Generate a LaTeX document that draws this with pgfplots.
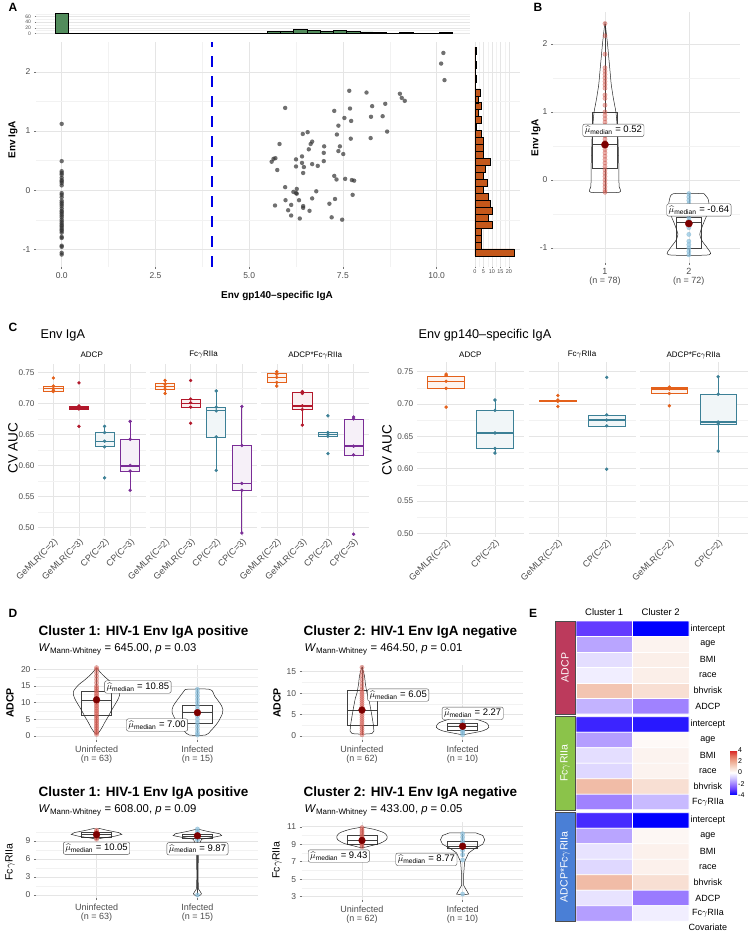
\documentclass[border=0pt]{standalone}
\usepackage{amsmath}
\usepackage{fontspec}
\setmainfont{Liberation Sans}
\usepackage{pgfplots}
\pgfplotsset{compat=1.18}
\usepgfplotslibrary{statistics}
\newcommand{\fs}[1]{\fontsize{#1}{#1}\selectfont}
\newcommand{\Wmw}{\textit{W}$_{\text{Mann-Whitney}}$}
\definecolor{cO}{RGB}{228,97,27}
\definecolor{cR}{RGB}{178,24,43}
\definecolor{cT}{RGB}{60,128,150}
\definecolor{cP}{RGB}{122,45,150}
\definecolor{histG}{RGB}{82,140,92}
\definecolor{histO}{RGB}{196,88,27}
\definecolor{dotR}{RGB}{222,100,90}
\definecolor{dotB}{RGB}{140,195,225}
\definecolor{medR}{RGB}{125,0,0}
\definecolor{stA}{RGB}{188,58,92}
\definecolor{stF}{RGB}{139,195,74}
\definecolor{stB}{RGB}{74,127,214}
\tikzset{lab/.style={draw=black!70, rounded corners=2pt, fill=white, inner sep=2pt, font=\fs{9.5}},
  rl/.style={font=\fs{9}}}
\pgfplotsset{
  colormap={heat}{rgb255=(0,0,255); rgb255=(100,60,255); rgb255=(160,130,255); rgb255=(210,200,255); rgb255=(255,255,255); rgb255=(246,215,200); rgb255=(238,170,145); rgb255=(228,110,90); rgb255=(215,25,28)},
  gg/.style={scale only axis, anchor=south west, axis line style={draw=none},
    tick pos=left, tick align=outside, major tick length=2pt, minor tick length=0pt,
    tick style={draw=black!55, line width=0.4pt},
    major grid style={draw=black!10, line width=0.5pt},
    minor grid style={draw=black!5, line width=0.35pt},
    xmajorgrids, ymajorgrids, yminorgrids,
    tick label style={font=\fs{8.5}, text=black!70},
    clip mode=individual},
  cfac/.style={gg, width=107.5pt, xmin=0.4, xmax=4.6, xtick={1,2,3,4},
    ytick={0.5,0.55,0.6,0.65,0.7,0.75}, yticklabels={0.50,0.55,0.60,0.65,0.70,0.75},
    yticklabel style={font=\fs{8.2}},
    minor ytick={0.525,0.575,0.625,0.675,0.725}, major tick length=0pt,
    xticklabel style={rotate=45, anchor=north east, inner sep=1pt, font=\fs{9}}},
  cfac2/.style={cfac, xmin=0.4, xmax=2.6, xtick={1,2}, xticklabels={GeMLR(C=2),CP(C=2)}},
  dax/.style={gg, width=222pt, height=75pt, xmin=0.4, xmax=2.6, xtick={1,2},
    xticklabel style={align=center, font=\fs{9}}},
  bx/.style={draw=#1, fill=#1!7, line width=0.7pt},
  pts/.style={only marks, mark=*, mark size=1.5pt, color=#1},
  vio/.style={draw=black!85, line width=0.5pt},
  gbox/.style={draw=black!75, line width=0.5pt},
  rdot/.style={only marks, mark=*, mark size=2.2pt, mark options={draw=dotR!85!black, draw opacity=0.5, line width=0.3pt, fill=dotR, fill opacity=0.5}},
  bdot/.style={only marks, mark=*, mark size=2.2pt, mark options={draw=dotB!85!black, draw opacity=0.5, line width=0.3pt, fill=dotB, fill opacity=0.7}},
  mdot/.style={only marks, mark=*, mark size=3.4pt, color=medR}
}
\begin{document}
\begin{tikzpicture}[x=1pt,y=1pt]
\useasboundingbox (0,0) rectangle (750,932);

% ---------------- A ----------------
\node[font=\bfseries\fs{12}] at (13,925) {A};
\begin{axis}[gg, at={(36pt,665pt)}, width=434pt, height=225.3pt,
  xmin=-0.685, xmax=10.89, ymin=-1.30, ymax=2.51,
  xtick={0,2.5,5,7.5,10}, xticklabels={0.0,2.5,5.0,7.5,10.0},
  minor xtick={1.25,3.75,6.25,8.75}, xminorgrids,
  ytick={-1,0,1,2}, yticklabels={-1,0,1,2}, minor ytick={-0.5,0.5,1.5}]
\addplot[color=blue!90!black, line width=2.2pt, dash pattern=on 11pt off 9pt] coordinates {(4,-1.30) (4,2.51)};
\addplot[only marks, mark=*, mark size=2.2pt, mark options={draw opacity=0, line width=0pt, fill=black!80, fill opacity=0.7}] coordinates {
(0,1.12) (0,0.49) (0,0.32) (0,0.29) (0,0.26) (0,0.21) (0,0.17) (0,0.15) (0,0.12) (0,0.08)
(0,-0.05) (0,-0.08) (0,-0.12) (0,-0.18) (0,-0.21) (0,-0.24) (0,-0.27) (0,-0.31) (0,-0.35) (0,-0.37)
(0,-0.40) (0,-0.43) (0,-0.46) (0,-0.50) (0,-0.53) (0,-0.56) (0,-0.59) (0,-0.61) (0,-0.64) (0,-0.67)
(0,-0.69) (0,-0.72) (0,-0.79) (0,-0.81) (0,-0.94) (0,-0.96) (0,-1.06) (0,-1.09)
(10.18,2.32) (10.12,2.14) (10.21,1.86) (7.67,1.68) (8.13,1.65) (9.02,1.63) (9.07,1.56) (9.15,1.51)
(8.63,1.46) (8.28,1.42) (5.96,1.39) (7.69,1.38) (7.27,1.34) (7.54,1.22) (8.25,1.24) (8.56,1.25)
(7.72,1.17) (7.38,1.09) (6.56,0.98) (8.68,0.99) (6.43,0.95) (7.34,0.94) (7.71,0.87) (8.24,0.88)
(5.81,0.78) (6.68,0.82) (6.64,0.78) (7.00,0.74) (7.42,0.74) (6.59,0.69) (7.38,0.66) (6.99,0.63)
(7.51,0.61) (6.41,0.57) (5.70,0.54) (5.65,0.53) (5.60,0.48) (6.25,0.52) (6.99,0.49) (6.41,0.46)
(6.68,0.44) (6.46,0.39) (6.25,0.40) (6.83,0.41) (5.75,0.34) (6.44,0.29) (7.27,0.24) (7.33,0.18)
(7.56,0.19) (7.74,0.17) (7.80,0.16) (5.96,0.05) (6.27,0.02) (6.18,-0.03) (6.25,-0.05) (6.27,-0.06)
(6.79,-0.02) (7.76,-0.08) (5.97,-0.17) (6.33,-0.17) (6.68,-0.14) (7.29,-0.15) (5.69,-0.26) (6.12,-0.25)
(6.44,-0.27) (7.14,-0.23) (6.44,-0.30) (6.04,-0.34) (6.61,-0.35) (6.12,-0.43) (6.35,-0.48) (7.20,-0.46)
(7.48,-0.50)};
\end{axis}
\node[font=\bfseries\fs{10}, rotate=90] at (13,792) {Env IgA};
\node[font=\bfseries\fs{10}] at (277,636) {Env gp140--specific IgA};

% top histogram
\begin{axis}[gg, at={(36pt,898pt)}, width=434pt, height=22pt,
  xmin=-0.685, xmax=10.89, ymin=-2.4, ymax=77, xmajorgrids=false,
  xtick=\empty, ytick={0,20,40,60}, yticklabels={0,20,40,60}, minor ytick={10,30,50,70},
  yticklabel style={font=\fs{5}}, major tick length=1.5pt]
\addplot[ybar, bar width=0.3534, draw=black, line width=0.6pt, fill=histG] coordinates {
(0,72) (0.3534,0) (0.7068,0) (1.0602,0) (1.4136,0) (1.767,0) (2.1204,0) (2.4738,0) (2.8272,0) (3.1806,0)
(3.534,0) (3.8874,0) (4.2408,0) (4.5942,0) (4.9476,0) (5.301,0) (5.6544,6) (6.0078,6) (6.3612,14) (6.7146,10)
(7.068,7) (7.4214,12) (7.7748,7) (8.1282,5) (8.4816,3) (8.835,1) (9.1884,3) (9.5418,1) (9.8952,0) (10.2486,3)};
\end{axis}

% right histogram
\begin{axis}[gg, at={(470pt,665pt)}, width=50pt, height=225.3pt,
  xmin=-2.9, xmax=26.5, ymin=-1.30, ymax=2.51,
  xtick={0,5,10,15,20}, xticklabels={0,5,10,15,20}, minor xtick={2.5,7.5,12.5,17.5}, xminorgrids,
  xticklabel style={font=\fs{5.5}, inner sep=1pt}, major tick length=1.5pt,
  ytick={-1,0,1,2}, yticklabels={}, minor ytick={-0.5,0.5,1.5}, ytick style={draw=none}]
\addplot[xbar, bar width=0.1177, draw=black, line width=0.6pt, fill=histO] coordinates {
(23,-1.054) (4,-0.936) (4,-0.819) (4,-0.701) (10,-0.583) (8,-0.466) (10,-0.348) (9,-0.230) (8,-0.113) (5,0.005)
(7,0.123) (5,0.241) (6,0.358) (9,0.476) (5,0.594) (5,0.711) (5,0.829) (4,0.947) (1,1.064) (4,1.182)
(2,1.300) (4,1.418) (2,1.535) (3,1.653) (0,1.771) (1,1.888) (0,2.006) (1,2.124) (0,2.241) (1,2.359)};
\end{axis}

% ---------------- B ----------------
\node[font=\bfseries\fs{12}] at (538,925) {B};
\begin{axis}[gg, at={(553pt,669pt)}, width=187pt, height=251pt,
  xmin=0.38, xmax=2.61, ymin=-1.22, ymax=2.47,
  xtick={1,2}, xticklabels={{1\\(n = 78)},{2\\(n = 72)}}, xticklabel style={align=center, font=\fs{9}},
  ytick={-1,0,1,2}, yticklabels={-1,0,1,2}, minor ytick={-0.5,0.5,1.5}]
\addplot[gbox, boxplot prepared={draw direction=y, draw position=1, lower whisker=-0.18, lower quartile=0.17, median=0.52, upper quartile=1.0, upper whisker=2.3, box extend=0.3, whisker extend=0}] coordinates {};
\addplot[gbox, boxplot prepared={draw direction=y, draw position=2, lower whisker=-1.1, lower quartile=-1.0, median=-0.62, upper quartile=-0.55, upper whisker=-0.2, box extend=0.3, whisker extend=0}] coordinates {};
\addplot[vio, smooth, tension=0.4] coordinates {(1,2.32) (1.012,2.2) (1.03,2.0) (1.045,1.8) (1.06,1.6) (1.075,1.4) (1.1,1.2) (1.13,1.0) (1.145,0.8) (1.155,0.6) (1.16,0.4) (1.165,0.2) (1.165,0) (1.17,-0.1) (1.17,-0.18) (0.83,-0.18) (0.83,-0.1) (0.835,0) (0.835,0.2) (0.84,0.4) (0.845,0.6) (0.855,0.8) (0.87,1.0) (0.9,1.2) (0.925,1.4) (0.94,1.6) (0.955,1.8) (0.97,2.0) (0.988,2.2) (1,2.32)};
\addplot[vio, smooth, tension=0.4] coordinates {(2.18,-0.2) (2.23,-0.28) (2.24,-0.38) (2.22,-0.5) (2.17,-0.65) (2.13,-0.8) (2.16,-0.9) (2.22,-1.0) (2.24,-1.1) (1.76,-1.1) (1.78,-1.0) (1.84,-0.9) (1.87,-0.8) (1.83,-0.65) (1.78,-0.5) (1.76,-0.38) (1.77,-0.28) (1.82,-0.2) (2.18,-0.2)};
\addplot[rdot] coordinates {(1,2.3) (1,2.12) (1,1.85) (1,1.65) (1,1.6) (1,1.55) (1,1.5) (1,1.45) (1,1.4) (1,1.35) (1,1.25) (1,1.2) (1,1.1) (1,1.0) (1,0.95) (1,0.9) (1,0.85) (1,0.8) (1,0.75) (1,0.7) (1,0.65) (1,0.6) (1,0.55) (1,0.5) (1,0.45) (1,0.4) (1,0.35) (1,0.3) (1,0.25) (1,0.2) (1,0.15) (1,0.1) (1,0.05) (1,0) (1,-0.05) (1,-0.1) (1,-0.15) (1,-0.18)};
\addplot[bdot] coordinates {(2,-0.2) (2,-0.25) (2,-0.3) (2,-0.35) (2,-0.45) (2,-0.55) (2,-0.6) (2,-0.65) (2,-0.7) (2,-0.8) (2,-0.9) (2,-0.95) (2,-1.0) (2,-1.05) (2,-1.1)};
\addplot[mdot, mark size=3.6pt] coordinates {(1,0.52) (2,-0.64)};
\node[lab] at (axis cs:1.1,0.73) {$\widehat{\mu}_{\text{median}}$ = 0.52};
\node[lab] at (axis cs:2.12,-0.44) {$\widehat{\mu}_{\text{median}}$ = -0.64};
\end{axis}
\node[font=\bfseries\fs{10}, rotate=90] at (536,794) {Env IgA};

% ---------------- C ----------------
\node[font=\bfseries\fs{12}] at (13,605) {C};
\node[font=\fs{12.7}, anchor=west] at (37,597) {Env IgA};
\node[font=\fs{12.7}, anchor=west] at (415,597) {Env gp140--specific IgA};
\node[font=\fs{13.5}, rotate=90] at (13,484) {CV AUC};
\node[font=\fs{13.5}, rotate=90] at (387,482) {CV AUC};
\node[font=\fs{8}] at (91.75,577) {ADCP};
\node[font=\fs{8}] at (203.5,577) {Fc$\gamma$RIIa};
\node[font=\fs{8}] at (315.2,577) {ADCP*Fc$\gamma$RIIa};
\node[font=\fs{8}] at (470.3,577) {ADCP};
\node[font=\fs{8}] at (582,577) {Fc$\gamma$RIIa};
\node[font=\fs{8}] at (693.5,577) {ADCP*Fc$\gamma$RIIa};

\begin{axis}[cfac, at={(38pt,395.9pt)}, height=172.4pt, ymin=0.486, ymax=0.764,
  xticklabels={GeMLR(C=2),GeMLR(C=3),CP(C=2),CP(C=3)}]
\addplot[bx=cO, boxplot prepared={draw direction=y, draw position=1, lower whisker=0.719, lower quartile=0.720, median=0.724, upper quartile=0.727, upper whisker=0.728, box extend=0.75, whisker extend=0, every median/.style={line width=1.4pt}}] coordinates {};
\addplot[bx=cR, boxplot prepared={draw direction=y, draw position=2, lower whisker=0.690, lower quartile=0.690, median=0.6925, upper quartile=0.696, upper whisker=0.696, box extend=0.75, whisker extend=0, every median/.style={line width=1.4pt}}] coordinates {};
\addplot[bx=cT, boxplot prepared={draw direction=y, draw position=3, lower whisker=0.630, lower quartile=0.630, median=0.639, upper quartile=0.653, upper whisker=0.663, box extend=0.75, whisker extend=0, every median/.style={line width=1.4pt}}] coordinates {};
\addplot[bx=cP, boxplot prepared={draw direction=y, draw position=4, lower whisker=0.560, lower quartile=0.590, median=0.599, upper quartile=0.642, upper whisker=0.671, box extend=0.75, whisker extend=0, every median/.style={line width=1.4pt}}] coordinates {};
\addplot[pts=cO] coordinates {(1,0.741) (1,0.728) (1,0.724) (1,0.721) (1,0.719)};
\addplot[pts=cR] coordinates {(2,0.733) (2,0.696) (2,0.694) (2,0.691) (2,0.663)};
\addplot[pts=cT] coordinates {(3,0.663) (3,0.653) (3,0.639) (3,0.630) (3,0.580)};
\addplot[pts=cP] coordinates {(4,0.671) (4,0.642) (4,0.600) (4,0.591) (4,0.560)};
\end{axis}

\begin{axis}[cfac, at={(149.7pt,395.9pt)}, height=172.4pt, ymin=0.486, ymax=0.764, yticklabels={},
  xticklabels={GeMLR(C=2),GeMLR(C=3),CP(C=2),CP(C=3)}]
\addplot[bx=cO, boxplot prepared={draw direction=y, draw position=1, lower whisker=0.716, lower quartile=0.7225, median=0.727, upper quartile=0.732, upper whisker=0.737, box extend=0.75, whisker extend=0, every median/.style={line width=1.4pt}}] coordinates {};
\addplot[bx=cR, boxplot prepared={draw direction=y, draw position=2, lower whisker=0.694, lower quartile=0.694, median=0.700, upper quartile=0.706, upper whisker=0.707, box extend=0.75, whisker extend=0, every median/.style={line width=1.4pt}}] coordinates {};
\addplot[bx=cT, boxplot prepared={draw direction=y, draw position=3, lower whisker=0.592, lower quartile=0.646, median=0.689, upper quartile=0.694, upper whisker=0.720, box extend=0.75, whisker extend=0, every median/.style={line width=1.4pt}}] coordinates {};
\addplot[bx=cP, boxplot prepared={draw direction=y, draw position=4, lower whisker=0.491, lower quartile=0.559, median=0.571, upper quartile=0.632, upper whisker=0.695, box extend=0.75, whisker extend=0, every median/.style={line width=1.4pt}}] coordinates {};
\addplot[pts=cO] coordinates {(1,0.737) (1,0.731) (1,0.727) (1,0.723) (1,0.716)};
\addplot[pts=cR] coordinates {(2,0.737) (2,0.707) (2,0.701) (2,0.694) (2,0.668)};
\addplot[pts=cT] coordinates {(3,0.720) (3,0.694) (3,0.688) (3,0.646) (3,0.592)};
\addplot[pts=cP] coordinates {(4,0.695) (4,0.632) (4,0.571) (4,0.560) (4,0.491)};
\end{axis}

\begin{axis}[cfac, at={(261.4pt,395.9pt)}, height=172.4pt, ymin=0.486, ymax=0.764, yticklabels={},
  xticklabels={GeMLR(C=2),GeMLR(C=3),CP(C=2),CP(C=3)}]
\addplot[bx=cO, boxplot prepared={draw direction=y, draw position=1, lower whisker=0.728, lower quartile=0.7335, median=0.742, upper quartile=0.7485, upper whisker=0.751, box extend=0.75, whisker extend=0, every median/.style={line width=1.4pt}}] coordinates {};
\addplot[bx=cR, boxplot prepared={draw direction=y, draw position=2, lower whisker=0.665, lower quartile=0.690, median=0.696, upper quartile=0.718, upper whisker=0.719, box extend=0.75, whisker extend=0, every median/.style={line width=1.4pt}}] coordinates {};
\addplot[bx=cT, boxplot prepared={draw direction=y, draw position=3, lower whisker=0.647, lower quartile=0.647, median=0.650, upper quartile=0.653, upper whisker=0.653, box extend=0.75, whisker extend=0, every median/.style={line width=1.4pt}}] coordinates {};
\addplot[bx=cP, boxplot prepared={draw direction=y, draw position=4, lower whisker=0.616, lower quartile=0.616, median=0.631, upper quartile=0.674, upper whisker=0.678, box extend=0.75, whisker extend=0, every median/.style={line width=1.4pt}}] coordinates {};
\addplot[pts=cO] coordinates {(1,0.751) (1,0.747) (1,0.742) (1,0.734) (1,0.728)};
\addplot[pts=cR] coordinates {(2,0.719) (2,0.716) (2,0.696) (2,0.690) (2,0.665)};
\addplot[pts=cT] coordinates {(3,0.680) (3,0.653) (3,0.650) (3,0.647) (3,0.619)};
\addplot[pts=cP] coordinates {(4,0.678) (4,0.675) (4,0.631) (4,0.617) (4,0.489)};
\end{axis}

\begin{axis}[cfac2, at={(416.8pt,394.9pt)}, height=174.6pt, ymin=0.494, ymax=0.764]
\addplot[bx=cO, boxplot prepared={draw direction=y, draw position=1, lower whisker=0.724, lower quartile=0.724, median=0.735, upper quartile=0.743, upper whisker=0.746, box extend=0.75, whisker extend=0, every median/.style={line width=1.4pt}}] coordinates {};
\addplot[bx=cT, boxplot prepared={draw direction=y, draw position=2, lower whisker=0.624, lower quartile=0.631, median=0.655, upper quartile=0.690, upper whisker=0.706, box extend=0.75, whisker extend=0, every median/.style={line width=1.4pt}}] coordinates {};
\addplot[pts=cO] coordinates {(1,0.746) (1,0.744) (1,0.735) (1,0.724) (1,0.695)};
\addplot[pts=cT] coordinates {(2,0.706) (2,0.690) (2,0.655) (2,0.631) (2,0.624)};
\end{axis}

\begin{axis}[cfac2, at={(528.5pt,394.9pt)}, height=174.6pt, ymin=0.494, ymax=0.764, yticklabels={}]
\addplot[bx=cO, boxplot prepared={draw direction=y, draw position=1, lower whisker=0.704, lower quartile=0.704, median=0.705, upper quartile=0.706, upper whisker=0.706, box extend=0.75, whisker extend=0, every median/.style={line width=1.4pt}}] coordinates {};
\addplot[bx=cT, boxplot prepared={draw direction=y, draw position=2, lower whisker=0.666, lower quartile=0.666, median=0.675, upper quartile=0.683, upper whisker=0.683, box extend=0.75, whisker extend=0, every median/.style={line width=1.4pt}}] coordinates {};
\addplot[pts=cO] coordinates {(1,0.713) (1,0.706) (1,0.705) (1,0.704) (1,0.696)};
\addplot[pts=cT] coordinates {(2,0.741) (2,0.683) (2,0.675) (2,0.666) (2,0.599)};
\end{axis}

\begin{axis}[cfac2, at={(640pt,394.9pt)}, height=174.6pt, ymin=0.494, ymax=0.764, yticklabels={}]
\addplot[bx=cO, boxplot prepared={draw direction=y, draw position=1, lower whisker=0.716, lower quartile=0.716, median=0.723, upper quartile=0.725, upper whisker=0.726, box extend=0.75, whisker extend=0, every median/.style={line width=1.4pt}}] coordinates {};
\addplot[bx=cT, boxplot prepared={draw direction=y, draw position=2, lower whisker=0.627, lower quartile=0.669, median=0.672, upper quartile=0.715, upper whisker=0.742, box extend=0.75, whisker extend=0, every median/.style={line width=1.4pt}}] coordinates {};
\addplot[pts=cO] coordinates {(1,0.726) (1,0.724) (1,0.723) (1,0.716) (1,0.697)};
\addplot[pts=cT] coordinates {(2,0.742) (2,0.715) (2,0.672) (2,0.669) (2,0.627)};
\end{axis}

% ---------------- D ----------------
\node[font=\bfseries\fs{12}] at (13,319) {D};
\node[font=\bfseries\fs{13.5}, anchor=west] at (35,300) {Cluster 1: HIV-1 Env IgA positive};
\node[font=\fs{11.3}, anchor=west] at (35,283) {\Wmw{} = 645.00, \textit{p} = 0.03};
\node[font=\bfseries\fs{13.5}, anchor=west] at (300,300) {Cluster 2: HIV-1 Env IgA negative};
\node[font=\fs{11.3}, anchor=west] at (301,283) {\Wmw{} = 464.50, \textit{p} = 0.01};
\node[font=\bfseries\fs{13.5}, anchor=west] at (35,139) {Cluster 1: HIV-1 Env IgA positive};
\node[font=\fs{11.3}, anchor=west] at (35,122) {\Wmw{} = 608.00, \textit{p} = 0.09};
\node[font=\bfseries\fs{13.5}, anchor=west] at (300,139) {Cluster 2: HIV-1 Env IgA negative};
\node[font=\fs{11.3}, anchor=west] at (301,122) {\Wmw{} = 433.00, \textit{p} = 0.05};
\node[font=\bfseries\fs{10.5}, rotate=90] at (10,229) {ADCP};
\node[font=\bfseries\fs{10.5}, rotate=90] at (277,229) {ADCP};
\node[font=\fs{10.5}, rotate=90] at (10,70) {Fc$\gamma$RIIa};
\node[font=\fs{10.5}, rotate=90] at (277,72) {Fc$\gamma$RIIa};

\begin{axis}[dax, at={(36pt,192pt)}, ymin=-1.2, ymax=21.3,
  xticklabels={{Uninfected\\(n = 63)},{Infected\\(n = 15)}},
  ytick={0,5,10,15,20}, yticklabels={0,5,10,15,20}, minor ytick={2.5,7.5,12.5,17.5}]
\addplot[gbox, boxplot prepared={draw direction=y, draw position=1, lower whisker=0.5, lower quartile=6.3, median=10.85, upper quartile=13.3, upper whisker=20.5, box extend=0.3, whisker extend=0}] coordinates {};
\addplot[gbox, boxplot prepared={draw direction=y, draw position=2, lower whisker=0.3, lower quartile=3.8, median=7.0, upper quartile=9.1, upper whisker=14, box extend=0.3, whisker extend=0}] coordinates {};
\addplot[vio, smooth, tension=0.5] coordinates {(1,20.5) (1.04,19) (1.08,17.8) (1.13,16.5) (1.18,15.3) (1.23,13.3) (1.22,11.5) (1.19,9.8) (1.15,7.8) (1.115,5.8) (1.08,4) (1.05,2.3) (1,0.5) (0.95,2.3) (0.92,4) (0.885,5.8) (0.85,7.8) (0.81,9.8) (0.78,11.5) (0.77,13.3) (0.82,15.3) (0.87,16.5) (0.92,17.8) (0.96,19) (1,20.5)};
\addplot[vio, smooth, tension=0.5] coordinates {(1.88,14) (2.12,14) (2.17,12) (2.24,9) (2.25,7) (2.2,4) (2.13,1.5) (2.08,0.3) (1.92,0.3) (1.87,1.5) (1.8,4) (1.75,7) (1.76,9) (1.83,12) (1.88,14)};
\addplot[rdot] coordinates {(1,0.5) (1,1) (1,1.5) (1,2) (1,2.5) (1,3) (1,3.5) (1,4) (1,4.5) (1,5) (1,5.5) (1,6) (1,6.5) (1,7) (1,7.5) (1,8) (1,8.5) (1,9) (1,9.5) (1,10) (1,10.5) (1,11) (1,11.5) (1,12) (1,12.5) (1,13) (1,13.5) (1,14) (1,14.5) (1,15) (1,16) (1,17) (1,18) (1,19) (1,20) (1,20.5)};
\addplot[bdot] coordinates {(2,0.3) (2,1) (2,2) (2,3) (2,4) (2,5) (2,6) (2,7) (2,8) (2,9) (2,10) (2,11) (2,12) (2,13) (2,14)};
\addplot[mdot] coordinates {(1,10.85) (2,7.0)};
\node[lab] at (axis cs:1.41,14.7) {$\widehat{\mu}_{\text{median}}$ = 10.85};
\node[lab] at (axis cs:1.6,3.3) {$\widehat{\mu}_{\text{median}}$ = 7.00};
\end{axis}

\begin{axis}[dax, at={(301.6pt,192pt)}, width=221.4pt, ymin=-0.93, ymax=16.56,
  xticklabels={{Uninfected\\(n = 62)},{Infected\\(n = 10)}},
  ytick={0,5,10,15}, yticklabels={0,5,10,15}, minor ytick={2.5,7.5,12.5}]
\addplot[gbox, boxplot prepared={draw direction=y, draw position=1, lower whisker=0.3, lower quartile=2.56, median=6.05, upper quartile=10.7, upper whisker=16, box extend=0.3, whisker extend=0}] coordinates {};
\addplot[gbox, boxplot prepared={draw direction=y, draw position=2, lower whisker=0.3, lower quartile=1.4, median=2.27, upper quartile=3.0, upper whisker=4.3, box extend=0.3, whisker extend=0}] coordinates {};
\addplot[vio, smooth, tension=0.5] coordinates {(1,16.2) (1.025,14) (1.033,12.3) (1.05,10) (1.066,8.8) (1.085,6.5) (1.1,4.5) (1.115,2) (1.1,0.6) (0.9,0.6) (0.885,2) (0.9,4.5) (0.915,6.5) (0.934,8.8) (0.95,10) (0.967,12.3) (0.975,14) (1,16.2)};
\addplot[vio, smooth, tension=0.5] coordinates {(2.03,4.5) (2.15,3.8) (2.24,3) (2.26,2) (2.2,1.2) (2.05,0.5) (2,0.3) (1.95,0.5) (1.8,1.2) (1.74,2) (1.76,3) (1.85,3.8) (1.97,4.5) (2.03,4.5)};
\addplot[rdot] coordinates {(1,0.3) (1,0.8) (1,1.3) (1,1.8) (1,2.3) (1,2.8) (1,3.3) (1,3.8) (1,4.3) (1,4.8) (1,5.3) (1,5.8) (1,6.3) (1,6.8) (1,7.3) (1,7.8) (1,8.3) (1,8.8) (1,9.3) (1,9.8) (1,10.3) (1,10.8) (1,11.5) (1,12.3) (1,13.2) (1,14.1) (1,15) (1,16)};
\addplot[bdot] coordinates {(2,0.3) (2,0.8) (2,1.2) (2,1.6) (2,2) (2,2.3) (2,2.6) (2,3) (2,3.5) (2,4.3)};
\addplot[mdot] coordinates {(1,6.05) (2,2.27)};
\node[lab] at (axis cs:1.36,9.56) {$\widehat{\mu}_{\text{median}}$ = 6.05};
\node[lab] at (axis cs:2.1,5.3) {$\widehat{\mu}_{\text{median}}$ = 2.27};
\end{axis}

\begin{axis}[dax, at={(36pt,34pt)}, height=69pt, ymin=-0.5, ymax=11,
  xticklabels={{Uninfected\\(n = 63)},{Infected\\(n = 15)}},
  ytick={0,3,6,9}, yticklabels={0,3,6,9}, minor ytick={1.5,4.5,7.5,10.5}]
\addplot[gbox, boxplot prepared={draw direction=y, draw position=1, lower whisker=9.2, lower quartile=9.7, median=10.05, upper quartile=10.4, upper whisker=11.0, box extend=0.3, whisker extend=0}] coordinates {};
\addplot[gbox, boxplot prepared={draw direction=y, draw position=2, lower whisker=0, lower quartile=9.5, median=9.87, upper quartile=10.2, upper whisker=11.0, box extend=0.3, whisker extend=0}] coordinates {};
\addplot[vio] coordinates {(1,11.2) (1.1,10.8) (1.22,10.4) (1.25,10.1) (1.18,9.8) (1.06,9.5) (1,9.3) (0.94,9.5) (0.82,9.8) (0.75,10.1) (0.78,10.4) (0.9,10.8) (1,11.2)};
\addplot[vio] coordinates {(2,11) (2.1,10.6) (2.22,10.2) (2.24,9.9) (2.15,9.6) (2.04,9.3) (2.01,8) (2.006,3) (2.01,1) (2.03,0.5) (2.04,0.2) (2.03,0) (2,-0.2) (1.97,0) (1.96,0.2) (1.97,0.5) (1.99,1) (1.994,3) (1.99,8) (1.96,9.3) (1.85,9.6) (1.76,9.9) (1.78,10.2) (1.9,10.6) (2,11)};
\addplot[rdot] coordinates {(1,9.3) (1,9.5) (1,9.7) (1,9.8) (1,9.9) (1,10) (1,10.1) (1,10.2) (1,10.3) (1,10.4) (1,10.6) (1,10.8) (1,11.1)};
\addplot[bdot] coordinates {(2,0) (2,9.2) (2,9.5) (2,9.7) (2,9.8) (2,9.9) (2,10) (2,10.1) (2,10.3) (2,10.6) (2,11)};
\addplot[mdot] coordinates {(1,10.05) (2,9.87)};
\node[lab] at (axis cs:1.0,7.8) {$\widehat{\mu}_{\text{median}}$ = 10.05};
\node[lab] at (axis cs:2.0,7.7) {$\widehat{\mu}_{\text{median}}$ = 9.87};
\end{axis}

\begin{axis}[dax, at={(301.6pt,32pt)}, width=221.4pt, height=78pt, ymin=2.62, ymax=11.54,
  xticklabels={{Uninfected\\(n = 62)},{Infected\\(n = 10)}},
  ytick={3,5,7,9,11}, yticklabels={3,5,7,9,11}, minor ytick={4,6,8,10}]
\addplot[gbox, boxplot prepared={draw direction=y, draw position=1, lower whisker=8.6, lower quartile=9.0, median=9.43, upper quartile=10.05, upper whisker=10.9, box extend=0.3, whisker extend=0}] coordinates {};
\addplot[gbox, boxplot prepared={draw direction=y, draw position=2, lower whisker=7.5, lower quartile=8.5, median=8.77, upper quartile=9.3, upper whisker=10.2, box extend=0.3, whisker extend=0}] coordinates {};
\addplot[vio, smooth, tension=0.5] coordinates {(1,10.95) (1.12,10.7) (1.22,10.3) (1.25,9.9) (1.24,9.5) (1.18,9.1) (1.08,8.8) (1,8.6) (0.92,8.8) (0.82,9.1) (0.76,9.5) (0.75,9.9) (0.78,10.3) (0.88,10.7) (1,10.95)};
\addplot[vio] coordinates {(1.87,10.3) (2.13,10.3) (2.2,10) (2.22,9.5) (2.2,9) (2.12,8.5) (2.06,8) (2.02,7) (2.01,5.5) (2.01,4.3) (2.06,3.3) (2,3.2) (1.94,3.3) (1.99,4.3) (1.99,5.5) (1.98,7) (1.94,8) (1.88,8.5) (1.8,9) (1.78,9.5) (1.8,10) (1.87,10.3)};
\addplot[rdot] coordinates {(1,8.7) (1,8.9) (1,9.1) (1,9.2) (1,9.3) (1,9.4) (1,9.5) (1,9.6) (1,9.7) (1,9.9) (1,10.1) (1,10.3) (1,10.5) (1,10.7) (1,10.9)};
\addplot[bdot] coordinates {(2,3.3) (2,7.2) (2,7.8) (2,8.3) (2,8.6) (2,8.9) (2,9.1) (2,9.4) (2,9.8) (2,10.2)};
\addplot[mdot] coordinates {(1,9.43) (2,8.77)};
\node[lab] at (axis cs:0.77,7.65) {$\widehat{\mu}_{\text{median}}$ = 9.43};
\node[lab] at (axis cs:1.64,7.27) {$\widehat{\mu}_{\text{median}}$ = 8.77};
\end{axis}

% ---------------- E ----------------
\node[font=\bfseries\fs{12}] at (533,319) {E};
\begin{axis}[scale only axis, anchor=south west, at={(576pt,11pt)}, width=113pt, height=300pt,
  xmin=0.5, xmax=2.5, ymin=621, ymax=921, y dir=reverse,
  axis line style={draw=none}, xtick=\empty, ytick=\empty, clip=false,
  colormap name=heat, point meta min=-4, point meta max=4,
  colorbar, colorbar style={scale only axis, width=7pt, height=45pt,
    at={(parent axis.north east)}, anchor=north west, xshift=32.5pt, yshift=-129pt,
    y dir=normal, ytick={-4,-2,0,2,4}, yticklabels={-4,-2,0,2,4},
    yticklabel style={font=\fs{7}, inner sep=1pt}, axis line style={draw=none}, major tick length=0pt}]
\addplot[matrix plot*, mesh/cols=2, point meta=explicit, draw=white, line width=0.8pt] table[meta=c] {
x y c
1 628.75 -3.0
2 628.75 -4.0
1 644.25 -1.5
2 644.25 0.3
1 659.75 -0.6
2 659.75 0.4
1 675.25 -0.3
2 675.25 0.4
1 690.75 1.4
2 690.75 0.8
1 706.25 -1.3
2 706.25 -2.0
};
\addplot[matrix plot*, mesh/cols=2, point meta=explicit, draw=white, line width=0.8pt] table[meta=c] {
x y c
1 724.45 -3.4
2 724.45 -3.6
1 739.95 -1.6
2 739.95 0.15
1 755.45 -0.6
2 755.45 0.3
1 770.95 -0.7
2 770.95 0.3
1 786.45 1.6
2 786.45 0.8
1 801.95 -2.0
2 801.95 -1.2
};
\addplot[matrix plot*, mesh/cols=2, point meta=explicit, draw=white, line width=0.8pt] table[meta=c] {
x y c
1 820.45 -3.3
2 820.45 -4.0
1 835.95 -1.5
2 835.95 0.2
1 851.45 -0.5
2 851.45 0.35
1 866.95 -0.7
2 866.95 0.35
1 882.45 1.6
2 882.45 0.8
1 897.95 -0.5
2 897.95 -2.1
1 913.45 -1.6
2 913.45 -0.3
};
\filldraw[fill=stA, draw=black!70, line width=0.6pt] (axis cs:0.128,621) rectangle (axis cs:0.482,714);
\filldraw[fill=stF, draw=black!70, line width=0.6pt] (axis cs:0.128,716.7) rectangle (axis cs:0.482,810);
\filldraw[fill=stB, draw=black!70, line width=0.6pt] (axis cs:0.128,812.7) rectangle (axis cs:0.482,921);
\node[rotate=90, text=white, font=\fs{10.5}] at (axis cs:0.305,667.5) {ADCP};
\node[rotate=90, text=white, font=\fs{10.5}] at (axis cs:0.305,763.3) {Fc$\gamma$RIIa};
\node[rotate=90, text=white, font=\fs{10.5}] at (axis cs:0.305,866.8) {ADCP*Fc$\gamma$RIIa};
\node[font=\fs{9.5}] at (axis cs:1,612) {Cluster 1};
\node[font=\fs{9.5}] at (axis cs:2,612) {Cluster 2};
\node[rl] at (axis cs:2.836,628.75) {intercept};
\node[rl] at (axis cs:2.836,644.25) {age};
\node[rl] at (axis cs:2.836,659.75) {BMI};
\node[rl] at (axis cs:2.836,675.25) {race};
\node[rl] at (axis cs:2.836,690.75) {bhvrisk};
\node[rl] at (axis cs:2.836,706.25) {ADCP};
\node[rl] at (axis cs:2.836,724.45) {intercept};
\node[rl] at (axis cs:2.836,739.95) {age};
\node[rl] at (axis cs:2.836,755.45) {BMI};
\node[rl] at (axis cs:2.836,770.95) {race};
\node[rl] at (axis cs:2.836,786.45) {bhvrisk};
\node[rl] at (axis cs:2.836,801.95) {Fc$\gamma$RIIa};
\node[rl] at (axis cs:2.836,820.45) {intercept};
\node[rl] at (axis cs:2.836,835.95) {age};
\node[rl] at (axis cs:2.836,851.45) {BMI};
\node[rl] at (axis cs:2.836,866.95) {race};
\node[rl] at (axis cs:2.836,882.45) {bhvrisk};
\node[rl] at (axis cs:2.836,897.95) {ADCP};
\node[rl] at (axis cs:2.836,913.45) {Fc$\gamma$RIIa};
\node[rl] at (axis cs:2.836,927) {Covariate};
\end{axis}
\end{tikzpicture}
\end{document}
